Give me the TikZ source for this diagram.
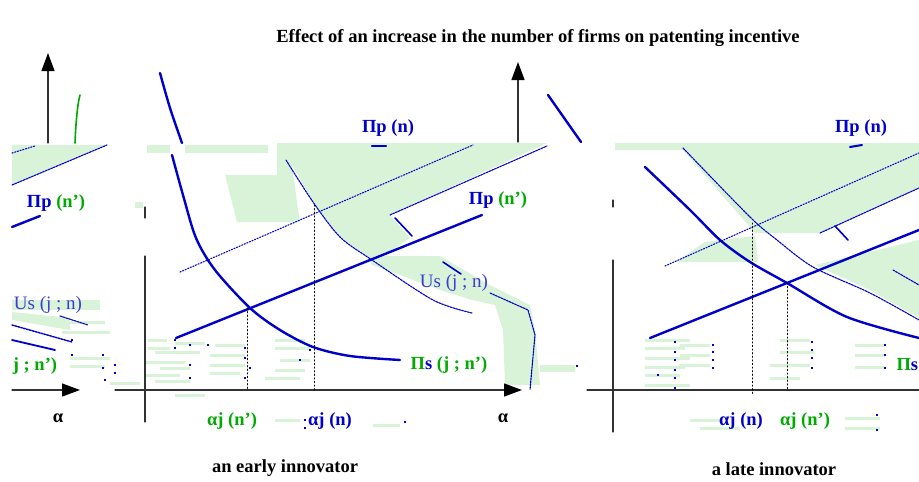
\documentclass[tikz,border=0pt]{standalone}
\usepackage{fontspec}
\setmainfont{Liberation Serif}
\usepackage{tikz}
\usetikzlibrary{arrows.meta}
\usepackage{xcolor}
\definecolor{curveblue}{RGB}{0,0,200}
\definecolor{softblue}{RGB}{60,60,210}
\definecolor{labelgreen}{RGB}{0,170,0}
\definecolor{patchgreen}{RGB}{216,243,216}
\definecolor{axisgray}{RGB}{50,50,50}

\begin{document}
\begin{tikzpicture}[x=1pt,y=-1pt,>={Triangle[length=18pt,width=13pt,color=black]},line cap=round,
  axis/.style={draw=axisgray,line width=1.3pt},
  pcurve/.style={curveblue,line width=2.4pt},
  ucurve/.style={curveblue,line width=1.1pt,dash pattern=on 2pt off 1pt},
  pdots/.style={curveblue,line width=1.1pt,dash pattern=on 1.2pt off 1.6pt},
  vguide/.style={black,line width=1pt,dash pattern=on 1.2pt off 2.4pt},
  lbl/.style={font=\fontsize{18.5}{21}\selectfont\bfseries},
  captext/.style={font=\fontsize{18.5}{21}\selectfont\bfseries},
  patch/.style={fill=patchgreen}]
\useasboundingbox (0,0) rectangle (919,482);
% green patches
\fill[patch] (12,145) -- (107,145) -- (12,185) -- cycle;
\fill[patch] (147,145) rectangle (170,153);
\fill[patch] (185,145) rectangle (268,153);
\fill[patch] (277,143) -- (547,143) -- (390,215) -- (410,238) -- (375,262) -- (340,238)
  -- (313,203) -- (292,165) -- (298,210) -- (300,222) -- (237,222) -- (225,175) -- (277,175) -- cycle;
\fill[patch] (367,256) -- (440,256) -- (490,285) -- (530,305) -- (535,330) -- (540,385)
  -- (505,385) -- (503,330) -- (495,305) -- (472,300) -- (440,290) -- (400,275) -- (372,265) -- cycle;
\fill[patch] (540,365) rectangle (575,372);
\fill[patch] (615,143) -- (919,143) -- (919,188) -- (820,233) -- (755,233) -- (683,150) -- (615,150) -- cycle;
\fill[patch] (675,262) -- (705,242) -- (755,236) -- (758,262) -- cycle;
\fill[patch] (815,265) -- (919,240) -- (919,318) -- (870,290) -- cycle;
\fill[patch] (12,300) rectangle (100,310);
\fill[patch] (12,312) -- (70,318) -- (70,330) -- (12,320) -- cycle;
\fill[patch] (135,202) rectangle (143,208);
\foreach \y/\xa/\xb in {340/148/167,348/148/170,343/175/205,352/155/200,362/145/185,368/160/190,
    375/145/180,381/155/190,345/215/245,355/210/245,365/210/245,373/210/240,340/275/305,
    348/275/310,360/280/310,370/275/305,378/265/300,395/175/205,420/275/300,425/373/400,
    340/645/690,348/645/685,358/645/690,367/645/685,375/645/680,385/645/690,345/680/710,
    355/680/710,365/680/710,340/780/810,352/780/815,365/770/810,378/770/800,345/855/885,
    355/855/885,367/855/885,420/690/720,428/700/740,418/845/880,428/845/880,
    322/60/105,332/62/110,358/70/110,366/70/105,383/110/140}
  \fill[patch] (\xa,\y-1.5) rectangle (\xb,\y+1.5);
% left part
\draw[axis,->] (48,143) -- (48,53);
\draw[axis,->] (12,390) -- (80,390);
\draw[labelgreen,line width=1.6pt] (75,143) .. controls (76,118) and (78,102) .. (80,95);
\draw[pdots] (12,153) -- (35,146);
\draw[ucurve] (12,185) -- (107,145);
\draw[pcurve] (12,227) -- (40,216);
\draw[curveblue,line width=1.4pt,dash pattern=on 2pt off 1pt] (12,325) -- (72,342);
\draw[curveblue,line width=1.8pt] (12,340) -- (55,350);
\draw[ucurve] (60,316) -- (88,325);
% early innovator
\draw[axis] (145,256) -- (145,422);
\draw[axis] (145,207) -- (145,218);
\draw[axis,->] (115,390) -- (522,390);
\draw[pcurve] plot[smooth] coordinates {(160,73) (170,108) (182,143)};
\draw[pcurve] plot[smooth] coordinates {(172,155) (183,195) (196,238) (215,270) (250,308)
  (280,330) (313,347) (350,356) (400,360)};
\draw[pdots] (180,272) -- (473,145);
\draw[ucurve] (390,215) -- (547,146);
\draw[curveblue,line width=1.6pt] (395,218) -- (412,236);
\draw[curveblue,line width=2.4pt] (372,146) -- (386,146);
\draw[ucurve] plot[smooth] coordinates {(286,160) (313,202) (340,237) (372,260) (433,300) (472,313)};
\draw[curveblue,line width=1.6pt] (443,262) -- (461,274);
\draw[ucurve] (490,293) -- (528,310) -- (535,335) -- (530,390);
\draw[pcurve] (176,338) -- (482,215);
\draw[vguide] (247,308) -- (247,390);
\draw[vguide] (314,205) -- (314,390);
% late innovator
\draw[axis,->] (518,142) -- (518,62);
\draw[pcurve] (548,95) -- (581,142);
\draw[axis] (613,260) -- (613,432);
\draw[axis] (613,200) -- (613,207);
\draw[axis] (587,390) -- (919,390);
\draw[pcurve] plot[smooth] coordinates {(645,167) (690,210) (720,240) (750,262) (787,283)
  (847,317) (919,338)};
\draw[ucurve] plot[smooth] coordinates {(683,148) (750,217) (777,240) (813,267) (870,293) (919,320)};
\draw[pdots] (665,266) -- (919,153);
\draw[ucurve] (820,233) -- (919,188);
\draw[curveblue,line width=1.6pt] (835,226) -- (848,240);
\draw[ucurve] (893,270) -- (919,285);
\draw[curveblue,line width=2pt] (850,147) -- (862,145);
\draw[pcurve] (650,338) -- (919,230);
\draw[vguide] (752,223) -- (752,395);
\draw[vguide] (787,283) -- (787,390);
% blue specks
\foreach \px/\py in {175/340,175/348,208/345,245/348,245/358,250/368,245/378,190/378,190/365,190/345,
    300/360,310/350,305/420,305/428,405/422,675/342,675/352,675/360,675/370,675/378,675/388,
    658/375,713/345,713/352,713/360,713/368,812/342,812/350,812/358,812/368,885/345,885/355,
    885/368,877/415,877/430,72/340,72/355,103/355,103/368,105/380,115/365,115/373,577/366}
  \fill[curveblue] (\px-1.2,\py-1.2) rectangle (\px+1.2,\py+1.2);
% texts
\node[font=\fontsize{18.5}{22}\selectfont\bfseries] (title) at (538,38)
  {Effect of an increase in the number of firms on patenting incentive};
\node[lbl] (ppnl) at (56,203) {\textcolor{curveblue}{Πp} \textcolor{labelgreen}{(n')}};
\node[softblue,font=\fontsize{19}{21}\selectfont] (usl) at (48,305) {Us (j ; n)};
\node[lbl,labelgreen] (psl) at (35,366) {j ; n')};
\node[lbl] (alphal) at (58,418) {α};
\node[lbl,curveblue] (ppn) at (388,128) {Πp (n)};
\node[lbl] (ppnp) at (498,200) {\textcolor{curveblue}{Πp} \textcolor{labelgreen}{(n')}};
\node[softblue,font=\fontsize{19}{21}\selectfont] (us) at (454,283) {Us (j ; n)};
\node[lbl] (ps) at (449,365) {\textcolor{labelgreen}{Π}\textcolor{curveblue}{s} \textcolor{labelgreen}{(j ; n')}};
\node[lbl] (alpha) at (503,418) {α};
\node[lbl,labelgreen] (ajnp) at (232,421) {αj (n')};
\node[lbl,curveblue] (ajn) at (330,421) {αj (n)};
\node[captext] (early) at (285,468) {an early innovator};
\node[lbl,curveblue] (ppnr) at (861,128) {Πp (n)};
\node[lbl,curveblue] (ajnr) at (741,421) {αj (n)};
\node[lbl,labelgreen] (ajnpr) at (805,421) {αj (n')};
\node[lbl,anchor=west] (psr) at (893,365) {\textcolor{labelgreen}{Π}\textcolor{curveblue}{s}};
\node[captext] (late) at (774,469) {a late innovator};
\end{tikzpicture}
\end{document}
